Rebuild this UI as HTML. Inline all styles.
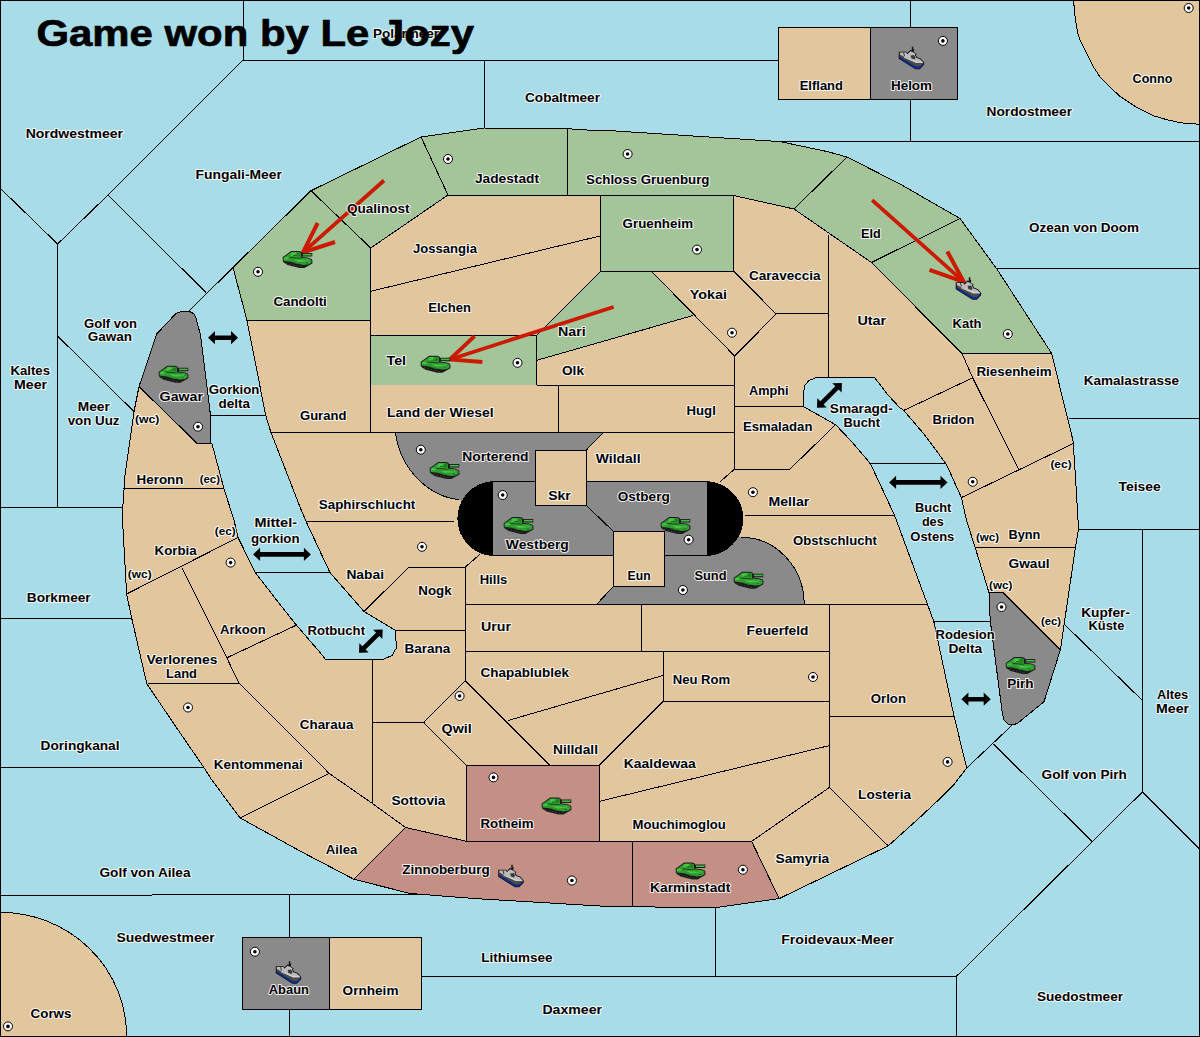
<!DOCTYPE html><html><head><meta charset="utf-8"><style>html,body{margin:0;padding:0;background:#fff;}svg{display:block}.l{font-family:"Liberation Sans",sans-serif;font-weight:bold;fill:#000;stroke:#fff;stroke-width:2px;stroke-linejoin:round;paint-order:stroke;stroke-opacity:.85}</style></head><body>
<svg width="1200" height="1037" viewBox="0 0 1200 1037">
<defs>
<g id="tank">
<path d="M8,-0.3 L16.3,-0.3 L18.8,0.8 L18.8,1.7 L29.3,1.7 L29.3,5.2 L19.5,5.2 L19.5,5.8 L25,6.2 L28.8,7.6 L29.4,9 L29.4,12.2 L25,14.8 L21.5,16.8 L16.5,16.8 L12.5,15.8 L8.5,14.8 L4.5,13.8 L0.7,11.2 L-0.3,9.8 L-0.3,5.8 L3,3.5 Z" fill="#1c1c1c"/>
<path d="M0.6,6 L3.5,4.2 L8.3,0.7 L16,0.7 L18,1.6 L18,6.4 L25,7 L28.3,8.3 L28.5,11.5 L26,13 L21,13.6 L15,12.5 L12,11.5 L8,10.5 L0.6,9.6 Z" fill="#2f9c2f"/>
<path d="M8.6,1.2 L13.5,1.2 L11.5,4.2 L7.2,4.6 Z M10.5,8.2 L20,8.6 L24.5,10 L15,10.6 Z M1,6.6 L4.5,5.8 L6,7.8 L1.2,8.2 Z M22,8 L27.5,9 L26,11 Z" fill="#4cc24c"/>
<path d="M13.8,1.4 L17.4,1.8 L17.4,5 L14.5,5.2 Z M6,10 L14,11.6 L20,13 L14,12.8 Z" fill="#237d23"/>
<path d="M6.5,5.6 L17.8,6.5 L17.5,7.4 L6.8,6.6 Z" fill="#1a4a1a"/>
<path d="M20,2.6 L28.6,2.6 L28.6,4.2 L20,4.2 Z" fill="#3fbf3f"/>
<path d="M10.4,3.7 h0.9 v0.9 h-0.9z M12.4,3.7 h0.9 v0.9 h-0.9z M25.6,9 h0.9 v0.9 h-0.9z M23.5,11.2 h0.9 v0.9 h-0.9z" fill="#113311"/>
<path d="M3,11.6 h1.2 v0.8 h-1.2z M6.5,12.6 h1.2 v0.8 h-1.2z M10,13.4 h1.2 v0.8 h-1.2z M13.5,14.2 h1.2 v0.8 h-1.2z M17,15 h1.2 v0.8 h-1.2z" fill="#4a4a4a"/>
</g>
<g id="fleet">
<path d="M-0.3,4.7 L7.8,4.7 L8.6,6.1 L11.2,2.9 L12.8,3.2 L12.8,-0.3 L14.3,-0.3 L14.3,2.2 L15.2,2.2 L15.2,3.4 L14.6,5 L17.8,7 L16.9,8.3 L18.2,10.3 L21.8,11.4 L25.2,15.5 L25.3,17.6 L20.9,22.2 L16.4,22.2 L-0.3,11.8 Z" fill="#161616"/>
<path d="M0.6,9.6 L16.6,19.4 L21,19.4 L25,16.4 L25,17.5 L20.8,21.8 L16.5,21.8 L0.6,11.6 Z" fill="#0b2a92"/>
<path d="M0.7,7.4 L17,15.8 L24.6,16 L21,19.4 L16.6,19.4 L0.6,9.6 Z" fill="#4c4c4c"/>
<path d="M0.8,5.6 L7.4,5.6 L8.5,7.3 L11.5,4.2 L14.4,5.4 L16.6,7.1 L15.9,8.3 L17.6,11 L21.2,12.2 L24.2,15.6 L17,15.9 L0.8,7.4 Z" fill="#bcbcbc"/>
<path d="M11.6,8.4 L15,8 L16.6,10.6 L15.6,12.6 L12.4,11.6 Z M4,5.6 L5,5.6 L6,9 L5,9 Z" fill="#3a3a3a"/>
<path d="M5,10.2 L17,15.2 L23.8,15.6" fill="none" stroke="#e4e4e4" stroke-width="0.8"/>
</g>
<g id="sc"><circle r="4.5" fill="#fff" stroke="#000" stroke-width="1"/><circle r="1.8" fill="#000"/></g>
</defs>
<rect x="0" y="0" width="1200" height="1037" fill="#a8dce9"/>
<g shape-rendering="crispEdges"><polygon points="189.0,311.2 182.0,311.2 176.0,313.5 156.6,334.0 139.0,386.6 134.0,411.6 125.0,475.5 122.8,507.0 122.5,520.0 125.3,570.0 126.6,594.0 131.6,617.7 146.6,682.9 147.9,685.4 180.0,732.8 203.8,767.4 211.8,780.0 240.2,818.0 300.0,851.0 353.9,879.3 410.3,893.5 475.4,898.6 600.0,906.0 612.5,906.8 717.8,907.3 779.2,898.6 888.2,845.9 920.0,817.3 941.3,797.3 953.3,785.3 966.7,768.0 953.9,715.5 933.8,621.5 927.3,603.9 894.5,515.2 870.4,463.5 850.6,440.5 835.6,424.7 803.5,406.6 803.5,392.0 805.0,385.0 809.0,380.5 817.0,377.3 874.4,377.3 888.2,395.3 900.0,407.9 903.8,410.4 925.0,435.4 946.4,464.3 961.4,497.6 966.4,520.0 975.2,547.6 989.0,592.7 990.2,620.3 1002.3,713.0 1004.0,720.0 1008.0,724.0 1013.0,725.0 1018.0,723.0 1044.0,701.7 1060.4,649.8 1064.0,625.3 1075.4,547.6 1078.4,530.0 1078.0,520.0 1075.4,475.5 1073.0,440.5 1051.6,353.3 996.8,268.9 960.0,218.5 900.0,184.0 847.0,157.0 827.7,151.7 802.0,146.2 780.0,141.6 600.0,130.0 587.0,130.0 557.0,128.0 484.5,128.0 421.0,137.0 311.0,190.7 233.0,267.5 246.9,320.0 265.7,415.4 270.7,431.7 300.0,507.0 306.0,521.3 330.0,572.6 364.0,611.5 395.2,630.3 396.5,647.8 392.0,655.5 383.0,659.3 325.4,659.3 318.5,650.7 296.3,625.0 280.0,604.5 255.6,573.0 238.0,537.5 234.0,520.0 224.0,489.0 211.8,443.0 210.5,443.0 210.5,415.4 200.5,335.0 197.0,322.0 196.2,318.0 193.5,313.5" fill="#e2c69e" stroke="none"/><polygon points="233.0,267.5 311.0,190.7 370.7,248.0 370.7,320.0 246.9,320.0" fill="#a4c499" stroke="none"/><polygon points="311.0,190.7 421.0,137.0 448.0,195.0 370.7,248.0" fill="#a4c499" stroke="none"/><polygon points="421.0,137.0 484.5,128.0 557.0,128.0 567.0,129.0 567.0,195.0 448.0,195.0" fill="#a4c499" stroke="none"/><polygon points="567.0,129.0 587.0,130.0 600.0,130.0 780.0,141.6 802.0,146.2 827.7,151.7 847.0,157.0 794.0,209.0 733.6,195.5 567.0,195.0" fill="#a4c499" stroke="none"/><polygon points="847.0,157.0 900.0,184.0 960.0,218.5 871.5,262.5 794.0,209.0" fill="#a4c499" stroke="none"/><polygon points="960.0,218.5 996.8,268.9 1051.6,353.3 961.9,353.3 917.0,308.3 871.5,262.5" fill="#a4c499" stroke="none"/><polygon points="600.8,195.5 733.6,195.5 733.6,271.3 600.8,271.3" fill="#a4c499" stroke="none"/><polygon points="536.8,335.2 601.0,271.3 651.4,271.3 692.7,315.6 600.0,342.2 536.8,360.3" fill="#a4c499" stroke="none"/><polygon points="370.7,335.2 536.8,335.2 536.8,385.0 370.7,385.0" fill="#a4c499" stroke="none"/><polygon points="189.0,311.2 182.0,311.2 176.0,313.5 156.6,334.0 139.0,386.6 196.7,443.0 210.5,443.0 210.5,415.4 200.5,335.0 197.0,322.0 196.2,318.0 193.5,313.5" fill="#8a8a8a" stroke="none"/><polygon points="492.2,481.7 707.6,481.7 707.6,555.5 492.2,555.5" fill="#8a8a8a" stroke="none"/><polygon points="989.0,592.7 1003.3,592.7 1060.4,649.8 1044.0,701.7 1018.0,723.0 1013.0,725.0 1008.0,724.0 1004.0,720.0 1002.3,713.0 990.2,620.3" fill="#8a8a8a" stroke="none"/><polygon points="466.2,765.0 599.5,765.0 599.5,841.2 466.2,841.2" fill="#c48f85" stroke="none"/><polygon points="353.9,879.3 405.6,827.5 466.2,841.2 632.6,841.4 632.6,906.8 600.0,906.0 475.4,898.6 410.3,893.5" fill="#c48f85" stroke="none"/><polygon points="632.6,841.4 751.6,841.4 779.2,898.6 717.8,907.3 632.6,906.8" fill="#c48f85" stroke="none"/><path d="M395.5,432.5 L603,432.7 L585.7,450.7 L535.6,450.7 L535.6,481.7 L492,481.7 L492,520 L459,499.5 C430,497 400,470 395.5,432.5 Z" fill="#8a8a8a"/><path d="M596.7,604.3 L613.5,586.2 L613.5,555.5 L707.6,555.5 L707.6,537.3 L741,537.3 A63,67 0 0 1 804.2,604.3 Z" fill="#8a8a8a"/><path d="M492.2,481.7 A37,37 0 0 0 492.2,555.5 Z" fill="#000"/><path d="M707.6,481.7 A38,37 0 0 1 707.6,555.5 Z" fill="#000"/><rect x="870" y="27.5" width="87.60000000000002" height="72.0" fill="#8a8a8a" stroke="#000" stroke-width="1"/><rect x="242.4" y="937.4" width="87.20000000000002" height="71.89999999999998" fill="#8a8a8a" stroke="#000" stroke-width="1"/><polygon points="1073.5,0.0 1075.0,16.0 1077.5,32.4 1080.2,40.5 1087.0,54.0 1093.8,67.5 1100.5,77.6 1110.0,87.0 1119.4,95.9 1135.6,106.7 1154.5,116.1 1168.0,120.0 1181.5,122.9 1199.0,124.2 1199.0,0.0" fill="#e2c69e"/><polyline points="1073.5,0.0 1075.0,16.0 1077.5,32.4 1080.2,40.5 1087.0,54.0 1093.8,67.5 1100.5,77.6 1110.0,87.0 1119.4,95.9 1135.6,106.7 1154.5,116.1 1168.0,120.0 1181.5,122.9 1199.0,124.2" fill="none" stroke="#000" stroke-width="1"/><path d="M0,912.3 A126.6,123.7 0 0 1 126.6,1036 L0,1036 Z" fill="#e2c69e" stroke="#000" stroke-width="1"/><polygon points="189.0,311.2 182.0,311.2 176.0,313.5 156.6,334.0 139.0,386.6 134.0,411.6 125.0,475.5 122.8,507.0 122.5,520.0 125.3,570.0 126.6,594.0 131.6,617.7 146.6,682.9 147.9,685.4 180.0,732.8 203.8,767.4 211.8,780.0 240.2,818.0 300.0,851.0 353.9,879.3 410.3,893.5 475.4,898.6 600.0,906.0 612.5,906.8 717.8,907.3 779.2,898.6 888.2,845.9 920.0,817.3 941.3,797.3 953.3,785.3 966.7,768.0 953.9,715.5 933.8,621.5 927.3,603.9 894.5,515.2 870.4,463.5 850.6,440.5 835.6,424.7 803.5,406.6 803.5,392.0 805.0,385.0 809.0,380.5 817.0,377.3 874.4,377.3 888.2,395.3 900.0,407.9 903.8,410.4 925.0,435.4 946.4,464.3 961.4,497.6 966.4,520.0 975.2,547.6 989.0,592.7 990.2,620.3 1002.3,713.0 1004.0,720.0 1008.0,724.0 1013.0,725.0 1018.0,723.0 1044.0,701.7 1060.4,649.8 1064.0,625.3 1075.4,547.6 1078.4,530.0 1078.0,520.0 1075.4,475.5 1073.0,440.5 1051.6,353.3 996.8,268.9 960.0,218.5 900.0,184.0 847.0,157.0 827.7,151.7 802.0,146.2 780.0,141.6 600.0,130.0 587.0,130.0 557.0,128.0 484.5,128.0 421.0,137.0 311.0,190.7 233.0,267.5 246.9,320.0 265.7,415.4 270.7,431.7 300.0,507.0 306.0,521.3 330.0,572.6 364.0,611.5 395.2,630.3 396.5,647.8 392.0,655.5 383.0,659.3 325.4,659.3 318.5,650.7 296.3,625.0 280.0,604.5 255.6,573.0 238.0,537.5 234.0,520.0 224.0,489.0 211.8,443.0 210.5,443.0 210.5,415.4 200.5,335.0 197.0,322.0 196.2,318.0 193.5,313.5" fill="none" stroke="#000" stroke-width="1"/><polyline points="243.0,0.0 243.0,60.0" fill="none" stroke="#000" stroke-width="1"/><polyline points="243.0,60.0 778.0,60.0" fill="none" stroke="#000" stroke-width="1"/><polyline points="484.5,60.0 484.5,128.0" fill="none" stroke="#000" stroke-width="1"/><polyline points="243.0,60.0 108.0,195.0" fill="none" stroke="#000" stroke-width="1"/><polyline points="108.0,195.0 57.6,244.0" fill="none" stroke="#000" stroke-width="1"/><polyline points="0.0,188.0 57.6,244.0" fill="none" stroke="#000" stroke-width="1"/><polyline points="57.6,244.0 57.6,507.0" fill="none" stroke="#000" stroke-width="1"/><polyline points="0.0,507.0 122.8,507.0" fill="none" stroke="#000" stroke-width="1"/><polyline points="57.6,336.0 134.0,411.6" fill="none" stroke="#000" stroke-width="1"/><polyline points="108.0,195.0 206.0,292.6" fill="none" stroke="#000" stroke-width="1"/><polyline points="189.0,311.0 233.0,267.5" fill="none" stroke="#000" stroke-width="1"/><polyline points="210.5,415.4 265.7,415.4" fill="none" stroke="#000" stroke-width="1"/><polyline points="0.0,618.2 131.6,618.2" fill="none" stroke="#000" stroke-width="1"/><polyline points="0.0,767.4 203.8,767.4" fill="none" stroke="#000" stroke-width="1"/><polyline points="255.6,573.0 330.0,572.6" fill="none" stroke="#000" stroke-width="1"/><polyline points="0.0,895.3 418.0,894.5" fill="none" stroke="#000" stroke-width="1"/><polyline points="289.5,895.3 289.5,937.4" fill="none" stroke="#000" stroke-width="1"/><polyline points="289.5,1009.3 289.5,1036.0" fill="none" stroke="#000" stroke-width="1"/><polyline points="421.6,976.3 956.4,976.3" fill="none" stroke="#000" stroke-width="1"/><polyline points="715.8,907.3 715.8,976.3" fill="none" stroke="#000" stroke-width="1"/><polyline points="956.4,976.3 956.4,1036.0" fill="none" stroke="#000" stroke-width="1"/><polyline points="956.4,976.3 1142.4,792.0" fill="none" stroke="#000" stroke-width="1"/><polyline points="1142.4,792.0 1199.0,848.4" fill="none" stroke="#000" stroke-width="1"/><polyline points="1142.4,529.3 1142.4,792.0" fill="none" stroke="#000" stroke-width="1"/><polyline points="1078.4,529.3 1199.0,529.3" fill="none" stroke="#000" stroke-width="1"/><polyline points="1069.0,418.4 1199.0,418.4" fill="none" stroke="#000" stroke-width="1"/><polyline points="996.8,268.9 1199.0,268.9" fill="none" stroke="#000" stroke-width="1"/><polyline points="780.0,141.5 1199.0,141.5" fill="none" stroke="#000" stroke-width="1"/><polyline points="910.5,0.0 910.5,27.5" fill="none" stroke="#000" stroke-width="1"/><polyline points="910.5,99.5 910.5,141.5" fill="none" stroke="#000" stroke-width="1"/><polyline points="1065.4,625.3 1142.4,700.5" fill="none" stroke="#000" stroke-width="1"/><polyline points="1012.0,725.3 966.7,768.0" fill="none" stroke="#000" stroke-width="1"/><polyline points="993.3,744.0 1092.0,841.3" fill="none" stroke="#000" stroke-width="1"/><polyline points="869.4,463.3 946.4,463.3" fill="none" stroke="#000" stroke-width="1"/><polyline points="933.8,621.3 990.0,621.3" fill="none" stroke="#000" stroke-width="1"/><polyline points="311.0,190.7 370.7,248.0" fill="none" stroke="#000" stroke-width="1"/><polyline points="421.0,137.0 448.0,195.0" fill="none" stroke="#000" stroke-width="1"/><polyline points="448.0,195.0 370.7,248.0" fill="none" stroke="#000" stroke-width="1"/><polyline points="370.7,248.0 370.7,432.4" fill="none" stroke="#000" stroke-width="1"/><polyline points="448.0,195.0 733.6,195.5" fill="none" stroke="#000" stroke-width="1"/><polyline points="567.0,129.0 567.0,195.0" fill="none" stroke="#000" stroke-width="1"/><polyline points="733.6,195.5 794.0,209.0 871.5,262.5 917.0,308.3 961.9,353.3" fill="none" stroke="#000" stroke-width="1"/><polyline points="847.0,157.0 794.0,209.0" fill="none" stroke="#000" stroke-width="1"/><polyline points="960.0,218.5 871.5,262.5" fill="none" stroke="#000" stroke-width="1"/><polyline points="961.9,353.3 1051.6,353.3" fill="none" stroke="#000" stroke-width="1"/><polyline points="246.9,320.0 370.7,320.0" fill="none" stroke="#000" stroke-width="1"/><polyline points="370.7,291.3 600.8,235.8" fill="none" stroke="#000" stroke-width="1"/><polyline points="536.8,335.2 601.0,271.3" fill="none" stroke="#000" stroke-width="1"/><polyline points="651.4,271.3 734.6,356.0" fill="none" stroke="#000" stroke-width="1"/><polyline points="692.7,315.6 600.0,342.2 536.8,360.3" fill="none" stroke="#000" stroke-width="1"/><polyline points="733.6,271.3 776.2,313.9 734.6,356.0" fill="none" stroke="#000" stroke-width="1"/><polyline points="776.2,313.9 828.6,313.9" fill="none" stroke="#000" stroke-width="1"/><polyline points="828.6,235.0 828.6,377.3" fill="none" stroke="#000" stroke-width="1"/><polyline points="734.6,356.0 734.6,469.1" fill="none" stroke="#000" stroke-width="1"/><polyline points="536.8,385.0 734.6,385.0" fill="none" stroke="#000" stroke-width="1"/><polyline points="270.7,432.2 734.6,432.5" fill="none" stroke="#000" stroke-width="1"/><polyline points="558.6,385.0 558.6,432.4" fill="none" stroke="#000" stroke-width="1"/><polyline points="734.6,406.6 803.5,406.6" fill="none" stroke="#000" stroke-width="1"/><polyline points="835.6,424.7 789.9,469.1 734.6,469.1" fill="none" stroke="#000" stroke-width="1"/><polyline points="734.6,469.1 720.2,481.7" fill="none" stroke="#000" stroke-width="1"/><polyline points="603.0,432.7 585.7,450.7" fill="none" stroke="#000" stroke-width="1"/><polyline points="586.3,505.5 613.5,531.5" fill="none" stroke="#000" stroke-width="1"/><polyline points="613.5,586.2 596.7,604.3" fill="none" stroke="#000" stroke-width="1"/><polyline points="744.5,515.2 894.5,515.2" fill="none" stroke="#000" stroke-width="1"/><polyline points="306.0,521.3 454.0,521.3" fill="none" stroke="#000" stroke-width="1"/><polyline points="364.0,611.5 409.0,567.0 465.4,567.0 479.6,554.6" fill="none" stroke="#000" stroke-width="1"/><polyline points="465.4,567.0 465.4,680.7" fill="none" stroke="#000" stroke-width="1"/><polyline points="395.2,630.5 465.4,630.5" fill="none" stroke="#000" stroke-width="1"/><polyline points="465.4,604.3 927.3,604.3" fill="none" stroke="#000" stroke-width="1"/><polyline points="465.4,651.0 829.3,651.0" fill="none" stroke="#000" stroke-width="1"/><polyline points="641.0,604.3 641.0,651.0" fill="none" stroke="#000" stroke-width="1"/><polyline points="829.3,604.3 829.3,787.5" fill="none" stroke="#000" stroke-width="1"/><polyline points="663.4,651.0 663.4,701.0 829.3,701.0" fill="none" stroke="#000" stroke-width="1"/><polyline points="508.0,720.5 663.4,675.4" fill="none" stroke="#000" stroke-width="1"/><polyline points="663.4,701.0 599.5,765.0" fill="none" stroke="#000" stroke-width="1"/><polyline points="372.0,659.3 372.0,803.0" fill="none" stroke="#000" stroke-width="1"/><polyline points="372.0,722.3 423.6,722.3" fill="none" stroke="#000" stroke-width="1"/><polyline points="423.6,722.3 465.4,680.7 549.4,765.0" fill="none" stroke="#000" stroke-width="1"/><polyline points="423.6,722.3 466.2,765.0" fill="none" stroke="#000" stroke-width="1"/><polyline points="599.5,801.3 829.3,745.6" fill="none" stroke="#000" stroke-width="1"/><polyline points="599.5,841.4 751.6,841.4" fill="none" stroke="#000" stroke-width="1"/><polyline points="632.6,841.4 632.6,906.8" fill="none" stroke="#000" stroke-width="1"/><polyline points="751.6,841.4 829.3,787.5 888.2,845.9" fill="none" stroke="#000" stroke-width="1"/><polyline points="751.6,841.4 779.2,898.6" fill="none" stroke="#000" stroke-width="1"/><polyline points="829.3,716.7 953.9,716.7" fill="none" stroke="#000" stroke-width="1"/><polyline points="405.6,827.5 466.2,841.2" fill="none" stroke="#000" stroke-width="1"/><polyline points="405.6,827.5 353.9,879.3" fill="none" stroke="#000" stroke-width="1"/><polyline points="329.1,773.4 371.7,803.0 405.6,827.5" fill="none" stroke="#000" stroke-width="1"/><polyline points="238.9,683.2 284.0,727.8 329.1,773.4" fill="none" stroke="#000" stroke-width="1"/><polyline points="329.1,773.4 240.2,818.0" fill="none" stroke="#000" stroke-width="1"/><polyline points="147.9,683.4 238.9,683.2" fill="none" stroke="#000" stroke-width="1"/><polyline points="181.7,567.6 226.8,657.8 238.9,683.2" fill="none" stroke="#000" stroke-width="1"/><polyline points="226.8,657.8 296.3,625.2" fill="none" stroke="#000" stroke-width="1"/><polyline points="126.6,594.0 238.0,537.5" fill="none" stroke="#000" stroke-width="1"/><polyline points="123.0,488.8 224.0,489.0" fill="none" stroke="#000" stroke-width="1"/><polyline points="139.0,386.6 196.7,443.0 210.5,443.0" fill="none" stroke="#000" stroke-width="1"/><polyline points="961.9,353.3 972.7,377.8 1018.5,469.3" fill="none" stroke="#000" stroke-width="1"/><polyline points="972.7,377.8 903.8,410.4" fill="none" stroke="#000" stroke-width="1"/><polyline points="961.4,497.6 1073.0,443.7" fill="none" stroke="#000" stroke-width="1"/><polyline points="975.2,547.6 1075.4,547.6" fill="none" stroke="#000" stroke-width="1"/><polyline points="1003.3,592.7 1060.4,649.8" fill="none" stroke="#000" stroke-width="1"/><polyline points="989.0,592.7 1003.3,592.7" fill="none" stroke="#000" stroke-width="1"/><polyline points="466.2,765.0 599.5,765.0 599.5,841.2 466.2,841.2 466.2,765.0" fill="none" stroke="#000" stroke-width="1"/><polyline points="370.7,335.2 536.8,335.2 536.8,385.0" fill="none" stroke="#000" stroke-width="1"/><polyline points="600.8,195.5 600.8,271.3 733.6,271.3 733.6,195.5" fill="none" stroke="#000" stroke-width="1"/><path d="M459,499.5 C430,497 400,470 395.5,432.5 M741,537.3 A63,67 0 0 1 804.2,604.3" fill="none" stroke="#000" stroke-width="1"/><path d="M492.2,481.7 L707.6,481.7 A38,37 0 0 1 707.6,555.5 L492.2,555.5 A37,37 0 0 1 492.2,481.7 Z" fill="none" stroke="#000" stroke-width="1"/><path d="M492.2,481.7 L492.2,555.5 M707.6,481.7 L707.6,555.5" stroke="#000" stroke-width="1"/><rect x="778" y="27.5" width="92" height="72.0" fill="#e2c69e" stroke="#000" stroke-width="1"/><rect x="329.6" y="937.4" width="92.0" height="71.89999999999998" fill="#e2c69e" stroke="#000" stroke-width="1"/><rect x="535.6" y="450.7" width="50.69999999999993" height="54.80000000000001" fill="#e2c69e" stroke="#000" stroke-width="1"/><rect x="613.5" y="531.5" width="51.299999999999955" height="54.700000000000045" fill="#e2c69e" stroke="#000" stroke-width="1"/></g>
<rect x="0.5" y="0.5" width="1199" height="1036" fill="none" stroke="#000" stroke-width="1"/>
<path d="M0,0 L7,-6.6 L7,-2.3 L23.00,-2.3 L23.00,-6.6 L30.00,0 L23.00,6.6 L23.00,2.3 L7,2.3 L7,6.6 Z" fill="#000" transform="translate(208,337.7) rotate(0.00)"/>
<path d="M0,0 L7,-6.6 L7,-2.3 L50.80,-2.3 L50.80,-6.6 L57.80,0 L50.80,6.6 L50.80,2.3 L7,2.3 L7,6.6 Z" fill="#000" transform="translate(253.1,554.4) rotate(0.00)"/>
<path d="M0,0 L7,-6.6 L7,-2.3 L28.14,-2.3 L28.14,-6.6 L35.14,0 L28.14,6.6 L28.14,2.3 L7,2.3 L7,6.6 Z" fill="#000" transform="translate(817,407.8) rotate(-44.88)"/>
<path d="M0,0 L7,-6.6 L7,-2.3 L51.40,-2.3 L51.40,-6.6 L58.40,0 L51.40,6.6 L51.40,2.3 L7,2.3 L7,6.6 Z" fill="#000" transform="translate(889.1,482.4) rotate(0.00)"/>
<path d="M0,0 L7,-6.6 L7,-2.3 L26.24,-2.3 L26.24,-6.6 L33.24,0 L26.24,6.6 L26.24,2.3 L7,2.3 L7,6.6 Z" fill="#000" transform="translate(359,652.8) rotate(-44.51)"/>
<path d="M0,0 L7,-6.6 L7,-2.3 L22.30,-2.3 L22.30,-6.6 L29.30,0 L22.30,6.6 L22.30,2.3 L7,2.3 L7,6.6 Z" fill="#000" transform="translate(961.4,699.2) rotate(0.00)"/>
<path d="M872.1,200.2 L963.8,281.8" fill="none" stroke="#cc1a00" stroke-width="3.7"/><path d="M947.3,251.5 L963.8,281.8 L929.5,269.8" fill="none" stroke="#cc1a00" stroke-width="4" stroke-linejoin="miter"/>
<path d="M613.6,306.9 L450,359.4" fill="none" stroke="#cc1a00" stroke-width="3.7"/><path d="M474.5,336.1 L450,359.4 L482.4,362" fill="none" stroke="#cc1a00" stroke-width="4" stroke-linejoin="miter"/>
<path d="M384,180.5 L303,252.3" fill="none" stroke="#cc1a00" stroke-width="3.7"/><path d="M317.7,223 L303,252.3 L335,242" fill="none" stroke="#cc1a00" stroke-width="4" stroke-linejoin="miter"/>
<use href="#tank" x="283" y="251.3"/>
<use href="#tank" x="159" y="366"/>
<use href="#tank" x="421" y="356"/>
<use href="#tank" x="430" y="462.3"/>
<use href="#tank" x="504" y="517.3"/>
<use href="#tank" x="661" y="517.3"/>
<use href="#tank" x="734" y="572"/>
<use href="#tank" x="1006" y="657.3"/>
<use href="#tank" x="542" y="797.8"/>
<use href="#tank" x="676" y="862.8"/>
<use href="#fleet" x="899" y="47"/>
<use href="#fleet" x="956" y="277.5"/>
<use href="#fleet" x="498.5" y="865"/>
<use href="#fleet" x="276" y="961.5"/>
<use href="#sc" x="448" y="159"/>
<use href="#sc" x="627.6" y="154"/>
<use href="#sc" x="697" y="249.6"/>
<use href="#sc" x="942.9" y="40.9"/>
<use href="#sc" x="1188.7" y="8"/>
<use href="#sc" x="258" y="271.8"/>
<use href="#sc" x="198" y="426.7"/>
<use href="#sc" x="517.5" y="362.8"/>
<use href="#sc" x="420.8" y="449.7"/>
<use href="#sc" x="732" y="332.7"/>
<use href="#sc" x="1007.8" y="334"/>
<use href="#sc" x="972.7" y="481.8"/>
<use href="#sc" x="752.9" y="492.2"/>
<use href="#sc" x="502.7" y="495"/>
<use href="#sc" x="688.6" y="539.7"/>
<use href="#sc" x="682.9" y="590"/>
<use href="#sc" x="422" y="546.8"/>
<use href="#sc" x="230.6" y="562.6"/>
<use href="#sc" x="188" y="707.5"/>
<use href="#sc" x="459.6" y="696"/>
<use href="#sc" x="493.5" y="777.4"/>
<use href="#sc" x="813" y="677"/>
<use href="#sc" x="1001.5" y="607"/>
<use href="#sc" x="947.6" y="761.9"/>
<use href="#sc" x="571.9" y="880.5"/>
<use href="#sc" x="742.9" y="869.7"/>
<use href="#sc" x="254.9" y="951.7"/>
<use href="#sc" x="8" y="1026.4"/>
<text class="l" x="373" y="37.5" textLength="66.0" lengthAdjust="spacingAndGlyphs" font-size="12.6">Polarmeer</text><text class="l" x="525" y="102.0" textLength="75.0" lengthAdjust="spacingAndGlyphs" font-size="12.6">Cobaltmeer</text><text class="l" x="25.7" y="137.5" textLength="97.3" lengthAdjust="spacingAndGlyphs" font-size="12.6">Nordwestmeer</text><text class="l" x="195.5" y="179.0" textLength="86.5" lengthAdjust="spacingAndGlyphs" font-size="12.6">Fungali-Meer</text><text class="l" x="799.7" y="89.5" textLength="43.3" lengthAdjust="spacingAndGlyphs" font-size="12.6">Elfland</text><text class="l" x="891" y="89.5" textLength="41.0" lengthAdjust="spacingAndGlyphs" font-size="12.6">Helom</text><text class="l" x="1132.6" y="82.5" textLength="39.8" lengthAdjust="spacingAndGlyphs" font-size="12.6">Conno</text><text class="l" x="986.5" y="116.3" textLength="85.5" lengthAdjust="spacingAndGlyphs" font-size="12.6">Nordostmeer</text><text class="l" x="475" y="182.5" textLength="64.0" lengthAdjust="spacingAndGlyphs" font-size="12.6">Jadestadt</text><text class="l" x="586" y="183.5" textLength="123.5" lengthAdjust="spacingAndGlyphs" font-size="12.6">Schloss Gruenburg</text><text class="l" x="347" y="213.0" textLength="62.5" lengthAdjust="spacingAndGlyphs" font-size="12.6">Qualinost</text><text class="l" x="622.6" y="227.5" textLength="70.4" lengthAdjust="spacingAndGlyphs" font-size="12.6">Gruenheim</text><text class="l" x="861" y="238.1" textLength="19.7" lengthAdjust="spacingAndGlyphs" font-size="12.6">Eld</text><text class="l" x="1029" y="232.3" textLength="110.0" lengthAdjust="spacingAndGlyphs" font-size="12.6">Ozean von Doom</text><text class="l" x="413" y="253.1" textLength="64.0" lengthAdjust="spacingAndGlyphs" font-size="12.6">Jossangia</text><text class="l" x="749" y="280.0" textLength="71.6" lengthAdjust="spacingAndGlyphs" font-size="12.6">Caraveccia</text><text class="l" x="689.7" y="299.3" textLength="37.3" lengthAdjust="spacingAndGlyphs" font-size="12.6">Yokai</text><text class="l" x="273.4" y="306.0" textLength="53.4" lengthAdjust="spacingAndGlyphs" font-size="12.6">Candolti</text><text class="l" x="428.3" y="311.5" textLength="42.7" lengthAdjust="spacingAndGlyphs" font-size="12.6">Elchen</text><text class="l" x="857.4" y="325.2" textLength="28.8" lengthAdjust="spacingAndGlyphs" font-size="12.6">Utar</text><text class="l" x="952.6" y="327.5" textLength="28.9" lengthAdjust="spacingAndGlyphs" font-size="12.6">Kath</text><text class="l" x="84" y="327.5" textLength="53.0" lengthAdjust="spacingAndGlyphs" font-size="12.6">Golf von</text><text class="l" x="87.7" y="341.2" textLength="44.3" lengthAdjust="spacingAndGlyphs" font-size="12.6">Gawan</text><text class="l" x="558" y="336.2" textLength="27.7" lengthAdjust="spacingAndGlyphs" font-size="12.6">Nari</text><text class="l" x="386.5" y="365.3" textLength="19.5" lengthAdjust="spacingAndGlyphs" font-size="12.6">Tel</text><text class="l" x="562" y="375.0" textLength="22.0" lengthAdjust="spacingAndGlyphs" font-size="12.6">Olk</text><text class="l" x="10.5" y="375.0" textLength="39.5" lengthAdjust="spacingAndGlyphs" font-size="12.6">Kaltes</text><text class="l" x="14" y="389.1" textLength="33.0" lengthAdjust="spacingAndGlyphs" font-size="12.6">Meer</text><text class="l" x="976.4" y="376.3" textLength="75.2" lengthAdjust="spacingAndGlyphs" font-size="12.6">Riesenheim</text><text class="l" x="1083.7" y="385.1" textLength="95.3" lengthAdjust="spacingAndGlyphs" font-size="12.6">Kamalastrasse</text><text class="l" x="749" y="394.5" textLength="39.5" lengthAdjust="spacingAndGlyphs" font-size="12.6">Amphi</text><text class="l" x="208.8" y="394.1" textLength="50.6" lengthAdjust="spacingAndGlyphs" font-size="12.6">Gorkion</text><text class="l" x="218.5" y="407.9" textLength="31.5" lengthAdjust="spacingAndGlyphs" font-size="12.6">delta</text><text class="l" x="159.6" y="401.4" textLength="43.4" lengthAdjust="spacingAndGlyphs" font-size="12.6">Gawar</text><text class="l" x="77.7" y="410.9" textLength="32.1" lengthAdjust="spacingAndGlyphs" font-size="12.6">Meer</text><text class="l" x="67.7" y="424.9" textLength="51.8" lengthAdjust="spacingAndGlyphs" font-size="12.6">von Uuz</text><text class="l" x="829.8" y="413.4" textLength="62.9" lengthAdjust="spacingAndGlyphs" font-size="12.6">Smaragd-</text><text class="l" x="843.6" y="427.2" textLength="36.4" lengthAdjust="spacingAndGlyphs" font-size="12.6">Bucht</text><text class="l" x="686.5" y="414.5" textLength="29.3" lengthAdjust="spacingAndGlyphs" font-size="12.6">Hugl</text><text class="l" x="387" y="416.5" textLength="106.5" lengthAdjust="spacingAndGlyphs" font-size="12.6">Land der Wiesel</text><text class="l" x="300" y="420.1" textLength="46.4" lengthAdjust="spacingAndGlyphs" font-size="12.6">Gurand</text><text class="l" x="932.6" y="423.5" textLength="41.8" lengthAdjust="spacingAndGlyphs" font-size="12.6">Bridon</text><text class="l" x="742.9" y="430.9" textLength="69.6" lengthAdjust="spacingAndGlyphs" font-size="12.6">Esmaladan</text><text class="l" x="462.3" y="461.0" textLength="66.3" lengthAdjust="spacingAndGlyphs" font-size="12.6">Norterend</text><text class="l" x="595.8" y="463.1" textLength="44.7" lengthAdjust="spacingAndGlyphs" font-size="12.6">Wildall</text><text class="l" x="136.6" y="483.5" textLength="46.9" lengthAdjust="spacingAndGlyphs" font-size="12.6">Heronn</text><text class="l" x="1118.5" y="491.1" textLength="42.1" lengthAdjust="spacingAndGlyphs" font-size="12.6">Teisee</text><text class="l" x="548.2" y="499.5" textLength="22.6" lengthAdjust="spacingAndGlyphs" font-size="12.6">Skr</text><text class="l" x="617.8" y="500.9" textLength="51.9" lengthAdjust="spacingAndGlyphs" font-size="12.6">Ostberg</text><text class="l" x="768.4" y="506.3" textLength="40.9" lengthAdjust="spacingAndGlyphs" font-size="12.6">Mellar</text><text class="l" x="318.8" y="509.4" textLength="96.5" lengthAdjust="spacingAndGlyphs" font-size="12.6">Saphirschlucht</text><text class="l" x="915.1" y="511.9" textLength="36.3" lengthAdjust="spacingAndGlyphs" font-size="12.6">Bucht</text><text class="l" x="921.9" y="526.3" textLength="21.8" lengthAdjust="spacingAndGlyphs" font-size="12.6">des</text><text class="l" x="910.3" y="540.8" textLength="44.0" lengthAdjust="spacingAndGlyphs" font-size="12.6">Ostens</text><text class="l" x="254.4" y="526.5" textLength="42.6" lengthAdjust="spacingAndGlyphs" font-size="12.6">Mittel-</text><text class="l" x="250.9" y="542.5" textLength="48.7" lengthAdjust="spacingAndGlyphs" font-size="12.6">gorkion</text><text class="l" x="1008.5" y="538.5" textLength="31.9" lengthAdjust="spacingAndGlyphs" font-size="12.6">Bynn</text><text class="l" x="793" y="544.8" textLength="84.0" lengthAdjust="spacingAndGlyphs" font-size="12.6">Obstschlucht</text><text class="l" x="505.8" y="548.5" textLength="63.0" lengthAdjust="spacingAndGlyphs" font-size="12.6">Westberg</text><text class="l" x="154.6" y="555.1" textLength="42.1" lengthAdjust="spacingAndGlyphs" font-size="12.6">Korbia</text><text class="l" x="1008.5" y="568.1" textLength="41.1" lengthAdjust="spacingAndGlyphs" font-size="12.6">Gwaul</text><text class="l" x="346.4" y="579.4" textLength="37.6" lengthAdjust="spacingAndGlyphs" font-size="12.6">Nabai</text><text class="l" x="627.6" y="579.5" textLength="23.0" lengthAdjust="spacingAndGlyphs" font-size="12.6">Eun</text><text class="l" x="694.4" y="580.1" textLength="32.2" lengthAdjust="spacingAndGlyphs" font-size="12.6">Sund</text><text class="l" x="479.7" y="584.3" textLength="27.6" lengthAdjust="spacingAndGlyphs" font-size="12.6">Hills</text><text class="l" x="418.3" y="595.2" textLength="33.3" lengthAdjust="spacingAndGlyphs" font-size="12.6">Nogk</text><text class="l" x="26.8" y="602.0" textLength="63.9" lengthAdjust="spacingAndGlyphs" font-size="12.6">Borkmeer</text><text class="l" x="1081.2" y="616.5" textLength="48.8" lengthAdjust="spacingAndGlyphs" font-size="12.6">Kupfer-</text><text class="l" x="1088.5" y="630.0" textLength="35.8" lengthAdjust="spacingAndGlyphs" font-size="12.6">Küste</text><text class="l" x="307.5" y="634.5" textLength="57.5" lengthAdjust="spacingAndGlyphs" font-size="12.6">Rotbucht</text><text class="l" x="481" y="630.8" textLength="30.0" lengthAdjust="spacingAndGlyphs" font-size="12.6">Urur</text><text class="l" x="220" y="634.0" textLength="45.7" lengthAdjust="spacingAndGlyphs" font-size="12.6">Arkoon</text><text class="l" x="746.6" y="635.0" textLength="61.9" lengthAdjust="spacingAndGlyphs" font-size="12.6">Feuerfeld</text><text class="l" x="935.6" y="639.0" textLength="59.1" lengthAdjust="spacingAndGlyphs" font-size="12.6">Rodesion</text><text class="l" x="948.4" y="652.8" textLength="33.8" lengthAdjust="spacingAndGlyphs" font-size="12.6">Delta</text><text class="l" x="404.5" y="653.3" textLength="45.9" lengthAdjust="spacingAndGlyphs" font-size="12.6">Barana</text><text class="l" x="146.6" y="664.1" textLength="70.9" lengthAdjust="spacingAndGlyphs" font-size="12.6">Verlorenes</text><text class="l" x="166" y="677.6" textLength="31.0" lengthAdjust="spacingAndGlyphs" font-size="12.6">Land</text><text class="l" x="480.5" y="677.1" textLength="88.5" lengthAdjust="spacingAndGlyphs" font-size="12.6">Chapablublek</text><text class="l" x="672.7" y="683.5" textLength="57.6" lengthAdjust="spacingAndGlyphs" font-size="12.6">Neu Rom</text><text class="l" x="1007.3" y="687.9" textLength="26.3" lengthAdjust="spacingAndGlyphs" font-size="12.6">Pirh</text><text class="l" x="1156.9" y="698.9" textLength="31.3" lengthAdjust="spacingAndGlyphs" font-size="12.6">Altes</text><text class="l" x="1156" y="713.0" textLength="33.0" lengthAdjust="spacingAndGlyphs" font-size="12.6">Meer</text><text class="l" x="870.7" y="702.7" textLength="35.3" lengthAdjust="spacingAndGlyphs" font-size="12.6">Orlon</text><text class="l" x="299.8" y="729.1" textLength="53.6" lengthAdjust="spacingAndGlyphs" font-size="12.6">Charaua</text><text class="l" x="441.6" y="733.0" textLength="30.1" lengthAdjust="spacingAndGlyphs" font-size="12.6">Qwil</text><text class="l" x="40.6" y="749.8" textLength="78.9" lengthAdjust="spacingAndGlyphs" font-size="12.6">Doringkanal</text><text class="l" x="553" y="754.3" textLength="45.0" lengthAdjust="spacingAndGlyphs" font-size="12.6">Nilldall</text><text class="l" x="213.7" y="768.8" textLength="89.1" lengthAdjust="spacingAndGlyphs" font-size="12.6">Kentommenai</text><text class="l" x="623.8" y="768.1" textLength="71.9" lengthAdjust="spacingAndGlyphs" font-size="12.6">Kaaldewaa</text><text class="l" x="1041.6" y="778.5" textLength="85.2" lengthAdjust="spacingAndGlyphs" font-size="12.6">Golf von Pirh</text><text class="l" x="858.1" y="798.8" textLength="52.9" lengthAdjust="spacingAndGlyphs" font-size="12.6">Losteria</text><text class="l" x="391.5" y="805.3" textLength="53.9" lengthAdjust="spacingAndGlyphs" font-size="12.6">Sottovia</text><text class="l" x="480.5" y="827.6" textLength="53.1" lengthAdjust="spacingAndGlyphs" font-size="12.6">Rotheim</text><text class="l" x="632.6" y="828.9" textLength="93.2" lengthAdjust="spacingAndGlyphs" font-size="12.6">Mouchimoglou</text><text class="l" x="325.8" y="853.7" textLength="31.5" lengthAdjust="spacingAndGlyphs" font-size="12.6">Ailea</text><text class="l" x="775.4" y="862.7" textLength="53.9" lengthAdjust="spacingAndGlyphs" font-size="12.6">Samyria</text><text class="l" x="402.3" y="873.5" textLength="87.4" lengthAdjust="spacingAndGlyphs" font-size="12.6">Zinnoberburg</text><text class="l" x="99.5" y="877.0" textLength="91.0" lengthAdjust="spacingAndGlyphs" font-size="12.6">Golf von Ailea</text><text class="l" x="650.1" y="892.0" textLength="80.2" lengthAdjust="spacingAndGlyphs" font-size="12.6">Karminstadt</text><text class="l" x="116.5" y="942.2" textLength="98.3" lengthAdjust="spacingAndGlyphs" font-size="12.6">Suedwestmeer</text><text class="l" x="781.2" y="944.2" textLength="112.8" lengthAdjust="spacingAndGlyphs" font-size="12.6">Froidevaux-Meer</text><text class="l" x="481.2" y="962.2" textLength="71.2" lengthAdjust="spacingAndGlyphs" font-size="12.6">Lithiumsee</text><text class="l" x="268.7" y="993.5" textLength="40.3" lengthAdjust="spacingAndGlyphs" font-size="12.6">Abaun</text><text class="l" x="342.6" y="994.8" textLength="55.9" lengthAdjust="spacingAndGlyphs" font-size="12.6">Ornheim</text><text class="l" x="1037" y="1000.5" textLength="86.0" lengthAdjust="spacingAndGlyphs" font-size="12.6">Suedostmeer</text><text class="l" x="542.4" y="1014.3" textLength="59.6" lengthAdjust="spacingAndGlyphs" font-size="12.6">Daxmeer</text><text class="l" x="30.6" y="1018.1" textLength="40.8" lengthAdjust="spacingAndGlyphs" font-size="12.6">Corws</text><text class="l" x="135" y="423" textLength="24.4" lengthAdjust="spacingAndGlyphs" font-size="10">(wc)</text><text class="l" x="199.7" y="483" textLength="20.3" lengthAdjust="spacingAndGlyphs" font-size="10">(ec)</text><text class="l" x="214.8" y="534.5" textLength="20.8" lengthAdjust="spacingAndGlyphs" font-size="10">(ec)</text><text class="l" x="127.8" y="577.6" textLength="23.8" lengthAdjust="spacingAndGlyphs" font-size="10">(wc)</text><text class="l" x="1050.4" y="468" textLength="21.3" lengthAdjust="spacingAndGlyphs" font-size="10">(ec)</text><text class="l" x="975.9" y="541.3" textLength="23.1" lengthAdjust="spacingAndGlyphs" font-size="10">(wc)</text><text class="l" x="989" y="589" textLength="23.3" lengthAdjust="spacingAndGlyphs" font-size="10">(wc)</text><text class="l" x="1040.9" y="625.3" textLength="20.1" lengthAdjust="spacingAndGlyphs" font-size="10">(ec)</text>
<text x="36.5" y="45.8" textLength="437.5" lengthAdjust="spacingAndGlyphs" style="font-family:'Liberation Sans',sans-serif;font-weight:bold;font-size:37.6px" fill="#000" stroke="#000" stroke-width="0.7">Game won by Le Jozy</text>
</svg></body></html>
